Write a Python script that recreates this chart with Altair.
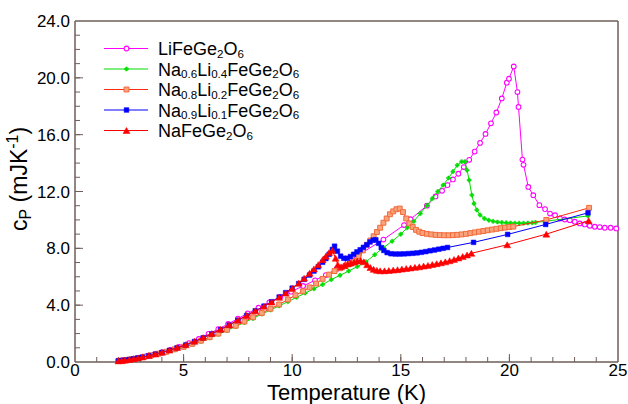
import altair as alt
import pandas as pd

# ---------------- data ----------------
M_T = [2.0, 2.2, 2.45, 2.7, 3.0, 3.3, 3.65, 4.0, 4.4, 4.8,
       5.25, 5.7, 6.15, 6.6, 7.05, 7.5, 7.95, 8.45, 8.95, 9.45,
       9.95, 10.5, 11.05, 11.55, 12.05, 12.55, 13.07, 14.2, 15.15, 15.45,
       16.2, 16.6, 16.9, 17.15, 17.4, 17.65, 17.9, 18.15, 18.4, 18.65,
       18.9, 19.15, 19.4, 19.65, 19.88, 19.98, 20.2, 20.37, 20.42, 20.6,
       20.65, 20.87, 21.1, 21.38, 21.64, 21.87, 22.1, 22.33, 22.55, 22.78,
       23.01, 23.24, 23.47, 23.7, 23.93, 24.16, 24.39, 24.66, 24.92]
M_CP = [0.09, 0.12, 0.17, 0.23, 0.31, 0.41, 0.53, 0.67, 0.86, 1.07,
        1.33, 1.62, 1.98, 2.32, 2.68, 3.05, 3.42, 3.82, 4.20, 4.58,
        4.95, 5.35, 5.75, 6.12, 6.55, 7.05, 7.55, 8.62, 9.64, 10.05,
        11.00, 11.65, 12.05, 12.45, 12.85, 13.25, 13.72, 14.23, 14.81, 15.42,
        16.05, 16.80, 17.56, 18.55, 19.66, 19.94, 20.80, 19.00, 17.95, 14.25,
        13.88, 12.32, 11.74, 11.04, 10.76, 10.45, 10.33, 10.10, 10.03, 9.98,
        9.87, 9.75, 9.68, 9.59, 9.52, 9.50, 9.45, 9.45, 9.40]

G_T = [2.0, 2.2, 2.4, 2.65, 2.9, 3.2, 3.5, 3.85, 4.2, 4.6,
       5.0, 5.4, 5.8, 6.2, 6.6, 7.0, 7.4, 7.8, 8.2, 8.6,
       9.0, 9.4, 9.8, 10.2, 10.6, 11.0, 11.4, 11.8, 12.2, 12.6,
       13.0, 13.4, 13.8, 14.2, 14.6, 15.0, 15.3, 15.6, 15.9, 16.2,
       16.45, 16.7, 16.95, 17.2, 17.4, 17.6, 17.8, 17.95, 18.05, 18.15,
       18.27, 18.37, 18.5, 18.65, 18.85, 19.05, 19.25, 19.45, 19.65, 19.85,
       20.05, 20.25, 20.45, 20.65, 20.85, 21.05, 21.2, 23.62]
G_CP = [0.08, 0.11, 0.15, 0.20, 0.26, 0.34, 0.43, 0.55, 0.68, 0.85,
        1.03, 1.24, 1.46, 1.70, 1.95, 2.22, 2.50, 2.78, 3.07, 3.37,
        3.66, 3.95, 4.25, 4.55, 4.85, 5.15, 5.45, 5.80, 6.10, 6.40,
        6.72, 7.05, 7.55, 8.05, 8.50, 9.00, 9.45, 9.90, 10.45, 11.00,
        11.50, 12.00, 12.45, 12.95, 13.40, 13.85, 14.10, 14.10, 13.50, 12.80,
        11.75, 11.15, 10.70, 10.35, 10.10, 9.98, 9.90, 9.85, 9.82, 9.80,
        9.78, 9.77, 9.77, 9.77, 9.78, 9.80, 9.82, 10.28]

O_T = [2.0, 2.2, 2.4, 2.65, 2.9, 3.2, 3.5, 3.85, 4.2, 4.6,
       5.0, 5.4, 5.8, 6.2, 6.6, 7.0, 7.4, 7.8, 8.2, 8.6,
       9.0, 9.4, 9.8, 10.15, 10.5, 10.8, 11.1, 11.4, 11.7, 11.95,
       12.2, 12.45, 12.65, 12.85, 13.05, 13.25, 13.45, 13.6, 13.75, 13.9,
       14.05, 14.2, 14.35, 14.5, 14.65, 14.8, 14.95, 15.1, 15.25, 15.4,
       15.55, 15.7, 15.85, 16.0, 16.2, 16.4, 16.6, 16.8, 17.0, 17.2,
       17.4, 17.6, 17.8, 18.0, 18.2, 18.4, 18.6, 18.8, 19.0, 19.2,
       19.4, 19.6, 19.8, 20.0, 20.18, 21.7, 23.67]
O_CP = [0.08, 0.11, 0.15, 0.21, 0.28, 0.37, 0.47, 0.59, 0.72, 0.90,
        1.07, 1.28, 1.50, 1.75, 2.00, 2.27, 2.55, 2.85, 3.15, 3.45,
        3.75, 4.05, 4.40, 4.70, 4.98, 5.25, 5.52, 5.85, 6.15, 6.40,
        6.60, 6.75, 6.90, 7.10, 7.45, 7.85, 8.25, 8.55, 8.85, 9.15,
        9.45, 9.80, 10.10, 10.40, 10.60, 10.75, 10.80, 10.55, 10.10, 9.75,
        9.50, 9.30, 9.17, 9.08, 9.02, 8.98, 8.95, 8.93, 8.92, 8.92,
        8.93, 8.95, 8.98, 9.02, 9.07, 9.12, 9.17, 9.22, 9.27, 9.32,
        9.37, 9.42, 9.46, 9.50, 9.53, 10.00, 10.85]

B_T = [2.0, 2.15, 2.3, 2.5, 2.7, 2.9, 3.1, 3.4, 3.7, 4.0,
       4.35, 4.7, 5.1, 5.5, 5.9, 6.3, 6.7, 7.1, 7.5, 7.9,
       8.3, 8.7, 9.05, 9.4, 9.7, 10.0, 10.3, 10.55, 10.8, 11.0,
       11.2, 11.4, 11.55, 11.7, 11.85, 11.95, 12.08, 12.23, 12.38, 12.53,
       12.68, 12.83, 12.98, 13.13, 13.28, 13.43, 13.58, 13.73, 13.85, 13.98,
       14.1, 14.22, 14.37, 14.55, 14.75, 14.95, 15.15, 15.35, 15.55, 15.75,
       15.95, 16.15, 16.35, 16.55, 16.75, 16.95, 17.15, 18.35, 19.92, 21.67,
       23.62]
B_CP = [0.08, 0.10, 0.13, 0.17, 0.22, 0.28, 0.34, 0.44, 0.55, 0.67,
        0.82, 1.00, 1.20, 1.44, 1.70, 1.98, 2.28, 2.60, 2.93, 3.26,
        3.60, 3.93, 4.24, 4.57, 4.88, 5.20, 5.52, 5.82, 6.12, 6.40,
        6.70, 7.02, 7.28, 7.58, 7.92, 8.15, 7.80, 7.45, 7.30, 7.30,
        7.42, 7.58, 7.75, 7.90, 8.07, 8.25, 8.45, 8.58, 8.60, 8.35,
        8.05, 7.85, 7.70, 7.62, 7.60, 7.60, 7.61, 7.63, 7.65, 7.68,
        7.72, 7.77, 7.83, 7.88, 7.94, 8.00, 8.06, 8.42, 8.98, 9.68,
        10.50]

R_T = [2.0, 2.15, 2.3, 2.5, 2.7, 2.9, 3.1, 3.4, 3.7, 4.0,
       4.35, 4.7, 5.1, 5.5, 5.9, 6.3, 6.7, 7.1, 7.5, 7.9,
       8.3, 8.7, 9.05, 9.4, 9.7, 10.0, 10.3, 10.55, 10.8, 11.0,
       11.2, 11.4, 11.55, 11.7, 11.85, 12.0, 12.1, 12.25, 12.4, 12.55,
       12.7, 12.85, 13.0, 13.15, 13.3, 13.45, 13.6, 13.75, 13.9, 14.05,
       14.25, 14.45, 14.65, 14.85, 15.05, 15.25, 15.45, 15.65, 15.85, 16.05,
       16.25, 16.45, 16.65, 16.85, 17.05, 17.25, 17.45, 17.65, 17.85, 18.05,
       18.25, 19.9, 21.7, 23.65]
R_CP = [0.08, 0.10, 0.13, 0.18, 0.23, 0.29, 0.35, 0.45, 0.56, 0.68,
        0.84, 1.02, 1.22, 1.46, 1.72, 2.00, 2.30, 2.62, 2.95, 3.28,
        3.60, 3.92, 4.22, 4.55, 4.85, 5.18, 5.55, 5.90, 6.25, 6.55,
        6.85, 7.20, 7.45, 7.70, 7.85, 7.30, 6.85, 6.70, 6.80, 6.90,
        6.97, 7.03, 7.10, 7.15, 7.05, 6.85, 6.65, 6.52, 6.45, 6.42,
        6.42, 6.44, 6.47, 6.50, 6.54, 6.58, 6.62, 6.66, 6.70, 6.75,
        6.80, 6.86, 6.92, 6.98, 7.05, 7.13, 7.22, 7.32, 7.42, 7.53,
        7.65, 8.25, 9.00, 9.95]

X_LABELS = [0, 5, 10, 15, 20, 25]
Y_LABELS = [0, 4, 8, 12, 16, 20, 24]
X_MINOR = list(range(1, 25))
Y_MINOR = list(range(1, 24))
X_TITLE = "Temperature (K)"

LEGEND = [
    [("LiFeGe", 0), ("2", 1), ("O", 0), ("6", 1)],
    [("Na", 0), ("0.6", 1), ("Li", 0), ("0.4", 1), ("FeGe", 0), ("2", 1), ("O", 0), ("6", 1)],
    [("Na", 0), ("0.8", 1), ("Li", 0), ("0.2", 1), ("FeGe", 0), ("2", 1), ("O", 0), ("6", 1)],
    [("Na", 0), ("0.9", 1), ("Li", 0), ("0.1", 1), ("FeGe", 0), ("2", 1), ("O", 0), ("6", 1)],
    [("NaFeGe", 0), ("2", 1), ("O", 0), ("6", 1)],
]
Y_TITLE = [("c", "main"), ("P", "sub"), (" ", "main"), ("(mJK", "main"), ("-1", "sup"), (")", "main")]

# ---------------- layout / style ----------------
FONT = "Liberation Sans"
W, H = 543, 341
FRAME = "#6e5e58"
xs = alt.Scale(domain=[0, 25], nice=False, zero=False)
ys = alt.Scale(domain=[0, 24], nice=False, zero=False)

AW = {'N': 722, 'a': 556, 'L': 556, 'i': 222, 'F': 611, 'e': 556, 'G': 778, 'O': 778,
      '.': 278, ' ': 278, '(': 333, ')': 333, 'm': 833, 'J': 500, 'K': 667, '-': 333,
      'c': 500, 'P': 667}
for d in "0123456789":
    AW[d] = 556


def tw(s, size):
    return sum(AW.get(ch, 556) for ch in s) * size / 1000.0


ONE = pd.DataFrame({"k": [0]})


def txt(x, y, s, size, angle=0, align="left"):
    kw = dict(text=s, font=FONT, fontSize=size, align=align, baseline="alphabetic", color="black")
    if angle:
        kw["angle"] = angle
    return alt.Chart(ONE).mark_text(**kw).encode(x=alt.value(x), y=alt.value(y))


STYLES = [
    dict(line="#ff00ff", pt=dict(shape="circle", filled=True, fill="white", stroke="#ff00ff",
                                 strokeWidth=1.1, size=22, opacity=1)),
    dict(line="#00dd00", pt=dict(shape="cross", filled=True, fill="#00dd00", stroke="#00dd00",
                                 strokeWidth=0.5, size=16, opacity=1)),
    dict(line="#ff2a10", pt=dict(shape="square", filled=True, fill="#f9a47c", stroke="#f26a3a",
                                 strokeWidth=1, size=24, opacity=1)),
    dict(line="#0000ff", pt=dict(shape="square", filled=True, fill="#0000ff", stroke="#0000ff",
                                 strokeWidth=0.5, size=22, opacity=1)),
    dict(line="#ff0000", pt=dict(shape="triangle-up", filled=True, fill="#ff0000", stroke="#ff0000",
                                 strokeWidth=0.5, size=48, opacity=1)),
]
SERIES = [(M_T, M_CP), (G_T, G_CP), (O_T, O_CP), (B_T, B_CP), (R_T, R_CP)]

layers = []

# frame
for (a, b, c, d) in [(0, W, 0, 0), (0, W, H, H), (0, 0, 0, H), (W, W, 0, H)]:
    if c == d:
        layers.append(alt.Chart(ONE).mark_rule(color=FRAME, strokeWidth=1.5).encode(
            x=alt.value(a), x2=alt.value(b), y=alt.value(c)))
    else:
        layers.append(alt.Chart(ONE).mark_rule(color=FRAME, strokeWidth=1.5).encode(
            x=alt.value(a), y=alt.value(c), y2=alt.value(d)))

# inward ticks
df_xmaj = pd.DataFrame({"t": X_LABELS[1:-1]})
df_xmin = pd.DataFrame({"t": X_MINOR})
df_ymaj = pd.DataFrame({"t": Y_LABELS[1:-1]})
df_ymin = pd.DataFrame({"t": Y_MINOR})
layers.append(alt.Chart(df_xmin).mark_rule(color=FRAME, strokeWidth=1).encode(
    x=alt.X("t:Q", scale=xs, axis=None), y=alt.value(H), y2=alt.value(H - 5)))
layers.append(alt.Chart(df_xmaj).mark_rule(color=FRAME, strokeWidth=1).encode(
    x=alt.X("t:Q", scale=xs, axis=None), y=alt.value(H), y2=alt.value(H - 8)))
layers.append(alt.Chart(df_ymin).mark_rule(color=FRAME, strokeWidth=1).encode(
    y=alt.Y("t:Q", scale=ys, axis=None), x=alt.value(0), x2=alt.value(5)))
layers.append(alt.Chart(df_ymaj).mark_rule(color=FRAME, strokeWidth=1).encode(
    y=alt.Y("t:Q", scale=ys, axis=None), x=alt.value(0), x2=alt.value(8)))

# tick labels as text marks placed through the scales
df_xl = pd.DataFrame({"t": X_LABELS, "lab": [str(v) for v in X_LABELS]})
df_yl = pd.DataFrame({"t": Y_LABELS, "lab": ["%.1f" % v for v in Y_LABELS]})
layers.append(alt.Chart(df_xl).mark_text(font=FONT, fontSize=17, align="center",
                                         baseline="alphabetic", color="black").encode(
    x=alt.X("t:Q", scale=xs, axis=None), y=alt.value(H + 14), text="lab:N"))
layers.append(alt.Chart(df_yl).mark_text(font=FONT, fontSize=17, align="right",
                                         baseline="alphabetic", color="black", dy=6).encode(
    y=alt.Y("t:Q", scale=ys, axis=None), x=alt.value(-5), text="lab:N"))

# x title
layers.append(txt(W / 2, H + 38, X_TITLE, 22, align="center"))

# data series
for (T, CP), st in zip(SERIES, STYLES):
    df = pd.DataFrame({"T": T, "cp": CP})
    base = alt.Chart(df)
    enc = dict(x=alt.X("T:Q", scale=xs, axis=None), y=alt.Y("cp:Q", scale=ys, axis=None))
    layers.append(base.mark_line(color=st["line"], strokeWidth=1).encode(**enc))
    layers.append(base.mark_point(**st["pt"]).encode(**enc))

# legend (manual, for subscripts)
LX0, LX1, LXM, LTX = 29, 73, 51.5, 83
MAIN, SUB = 18, 11.6
for i, segs in enumerate(LEGEND):
    ry = 27.5 + 20.5 * i
    st = STYLES[i]
    layers.append(alt.Chart(ONE).mark_rule(color=st["line"], strokeWidth=1).encode(
        x=alt.value(LX0), x2=alt.value(LX1), y=alt.value(ry)))
    layers.append(alt.Chart(ONE).mark_point(**st["pt"]).encode(
        x=alt.value(LXM), y=alt.value(ry)))
    cx = LTX
    for text, is_sub in segs:
        if is_sub:
            layers.append(txt(cx, ry + 9.0, text, SUB))
            cx += tw(text, SUB)
        else:
            layers.append(txt(cx, ry + 6.5, text, MAIN))
            cx += tw(text, MAIN)

# y title (rotated, manual for sub/superscripts)
YT_MAIN, YT_SMALL = 23, 16
YBASE = -48
ycur = 210
for text, kind in Y_TITLE:
    if kind == "main":
        if text.strip():
            layers.append(txt(YBASE, ycur, text, YT_MAIN, 270))
        ycur -= tw(text, YT_MAIN)
    elif kind == "sub":
        layers.append(txt(YBASE + 4, ycur, text, YT_SMALL, 270))
        ycur -= tw(text, YT_SMALL)
    else:
        layers.append(txt(YBASE - 9, ycur, text, YT_SMALL, 270))
        ycur -= tw(text, YT_SMALL)

chart = alt.layer(*layers).properties(
    width=W, height=H,
    autosize=alt.AutoSizeParams(type="none"),
    padding={"left": 75, "top": 21, "right": 10, "bottom": 42},
).configure_view(strokeWidth=0)

chart.save("out.html", embed_options={"renderer": "svg", "actions": False})
